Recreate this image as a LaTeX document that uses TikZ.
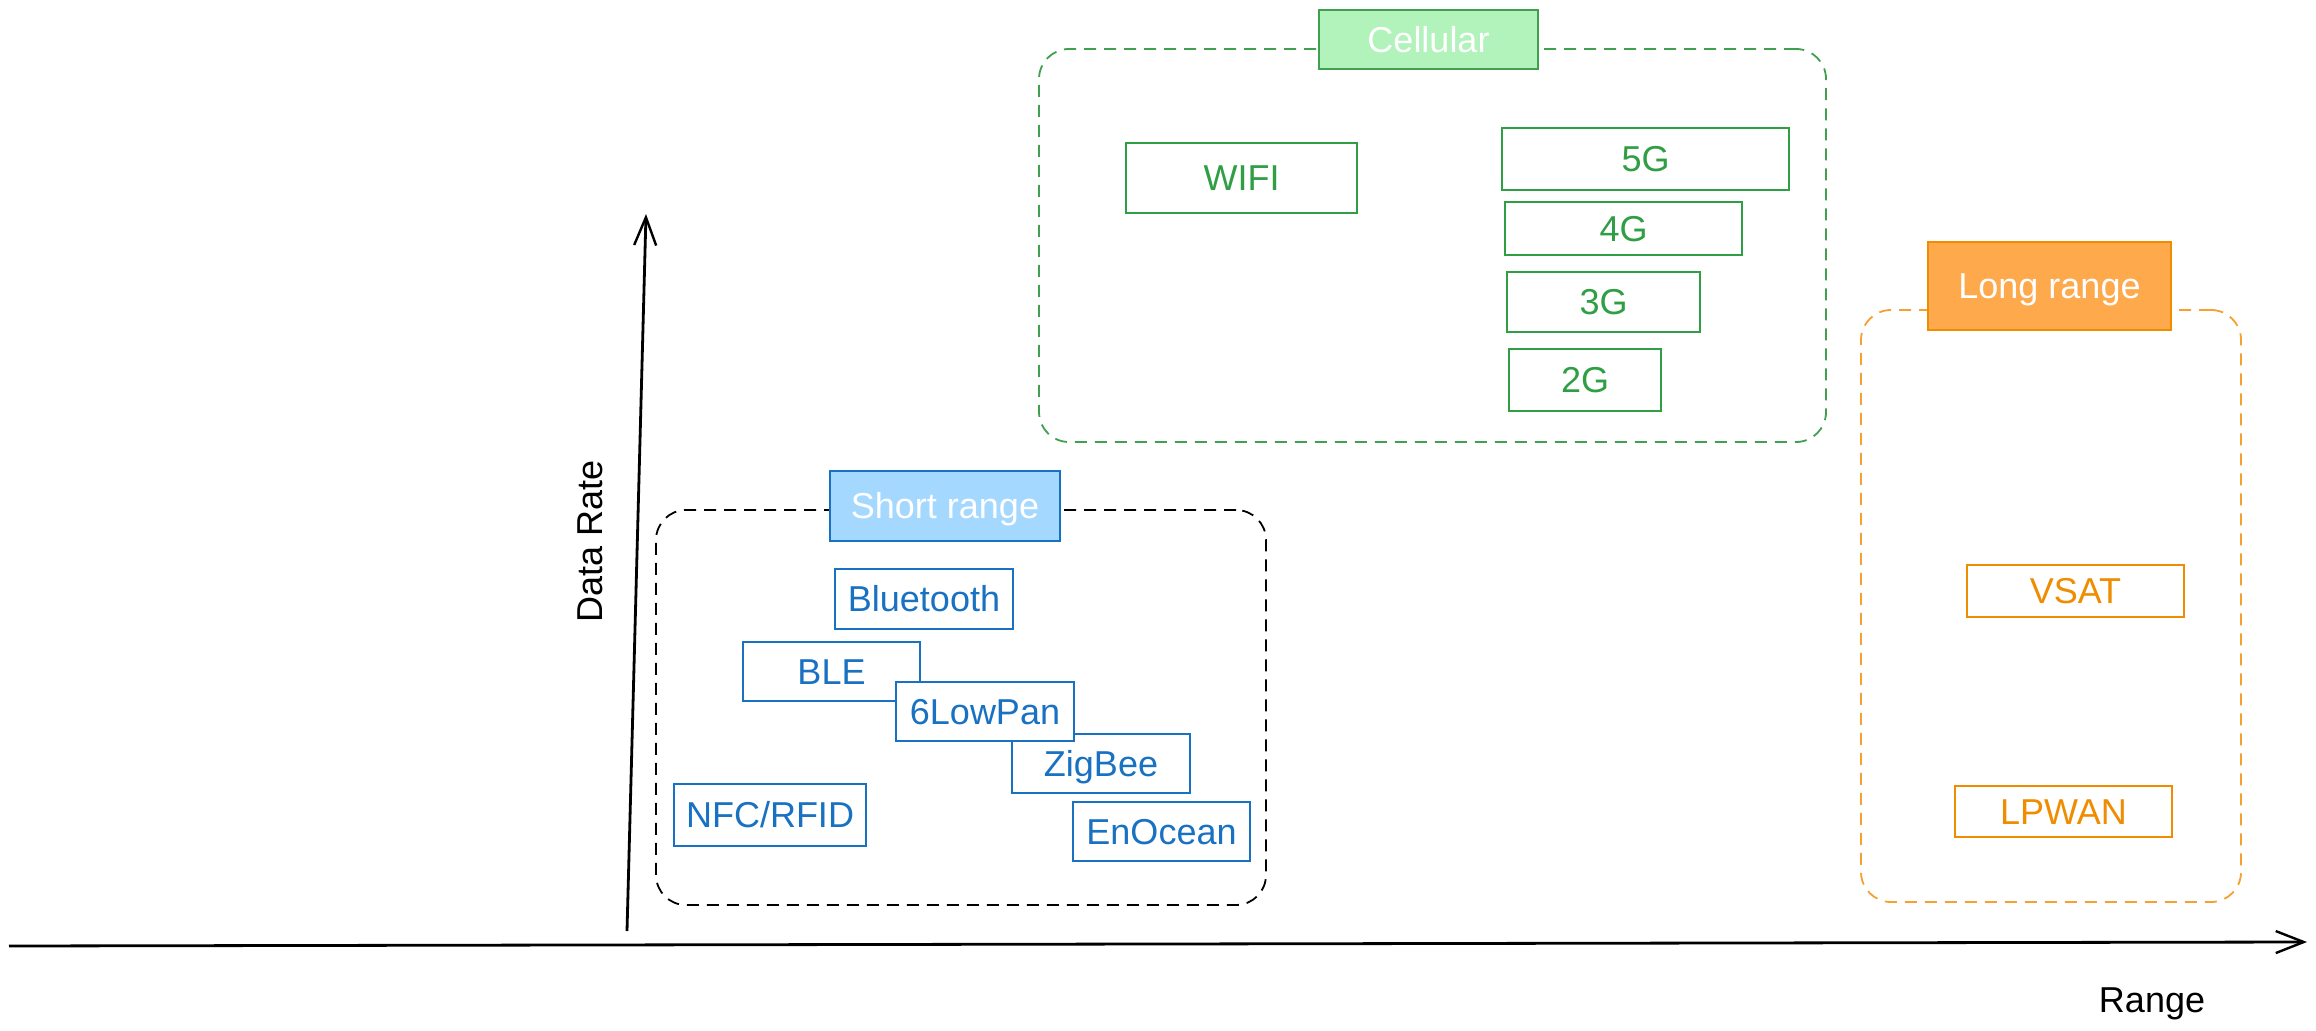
\documentclass[tikz,border=0pt]{standalone}
\usepackage{fontspec}
\setmainfont{Liberation Sans}
\usetikzlibrary{arrows.meta}
\definecolor{bluedark}{HTML}{1971C2}
\definecolor{bluelight}{HTML}{A5D8FF}
\definecolor{greendark}{HTML}{2F9E44}
\definecolor{greenlight}{HTML}{B2F2BB}
\definecolor{greenborder}{HTML}{40A050}
\definecolor{orangedark}{HTML}{F08C00}
\definecolor{orangelight}{HTML}{FFA94D}
\definecolor{orangedash}{HTML}{F5A030}
\newcommand\pxbox[7]{%
  \node[#1, minimum width={(#5-#3)*0.5pt}, minimum height={(#6-#4)*0.5pt}]
    (#2) at ({(#3+#5)/2},{(#4+#6)/2}) {#7};}
\tikzset{
  every node/.style={font=\fontsize{18}{21.6}\selectfont, inner sep=0pt,
    text height=12.9pt, text depth=0pt},
  techbox/.style={draw, fill=white, line width=1pt},
  bluebox/.style={techbox, draw=bluedark, text=bluedark},
  greenbox/.style={techbox, draw=greendark, text=greendark},
  orangebox/.style={techbox, draw=orangedark, text=orangedark},
  groupbox/.style={draw, dashed, dash pattern=on 6pt off 4pt, line width=0.9pt, rounded corners=15pt},
  grouplabel/.style={draw, line width=1pt, text=white},
  axisline/.style={line width=1.4pt, -{Straight Barb[length=14pt,width=11pt,line width=1.2pt]}}
}
\begin{document}
\begin{tikzpicture}[x=0.5pt,y=-0.5pt]
\useasboundingbox (0,0) rectangle (2316,1031);
% groups
\pxbox{groupbox, draw=greenborder}{cellgrp}{1039}{49}{1826}{442}{}
\pxbox{groupbox, draw=black}{shortgrp}{656}{510}{1266}{905}{}
\pxbox{groupbox, draw=orangedash}{longgrp}{1861}{310}{2241}{902}{}
% group labels
\pxbox{grouplabel, fill=greenlight, draw=greenborder}{cellular}{1319}{10}{1538}{69}{Cellular}
\pxbox{grouplabel, fill=bluelight, draw=bluedark}{short}{830}{471}{1060}{541}{Short range}
\pxbox{grouplabel, fill=orangelight, draw=orangedark}{long}{1928}{242}{2171}{330}{Long range}
% cellular
\pxbox{greenbox}{wifi}{1126}{143}{1357}{213}{WIFI}
\pxbox{greenbox}{g5}{1502}{128}{1789}{190}{5G}
\pxbox{greenbox}{g4}{1505}{202}{1742}{255}{4G}
\pxbox{greenbox}{g3}{1507}{272}{1700}{332}{3G}
\pxbox{greenbox}{g2}{1509}{349}{1661}{411}{2G}
% short range
\pxbox{bluebox}{bt}{835}{569}{1013}{629}{Bluetooth}
\pxbox{bluebox}{ble}{743}{642}{920}{701}{BLE}
\pxbox{bluebox}{zigbee}{1012}{734}{1190}{793}{ZigBee}
\pxbox{bluebox}{lowpan}{896}{682}{1074}{741}{6LowPan}
\pxbox{bluebox}{nfc}{674}{784}{866}{846}{NFC/RFID}
\pxbox{bluebox}{enocean}{1073}{802}{1250}{861}{EnOcean}
% long range
\pxbox{orangebox}{vsat}{1967}{565}{2184}{617}{VSAT}
\pxbox{orangebox}{lpwan}{1955}{786}{2172}{837}{LPWAN}
% axes
\coordinate (yaxis0) at (627,931);
\coordinate (yaxis1) at (646,214);
\coordinate (xaxis0) at (9,946);
\coordinate (xaxis1) at (2307,942);
\draw[axisline] (yaxis0) -- (yaxis1);
\draw[axisline] (xaxis0) -- (xaxis1);
\node[rotate=90] (datarate) at (590,541) {Data Rate};
\node[anchor=base] (range) at (2152,1012) {Range};
\end{tikzpicture}
\end{document}
